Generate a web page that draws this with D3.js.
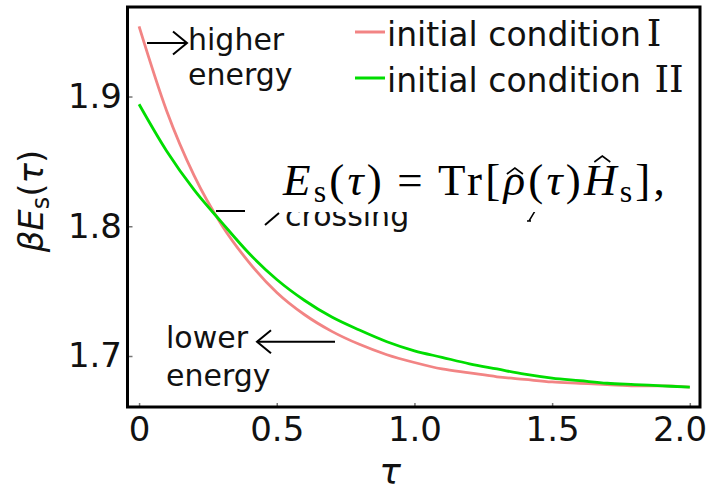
<!DOCTYPE html>
<html>
<head>
<meta charset="utf-8">
<script src="https://cdn.jsdelivr.net/npm/d3@7"></script>
<style>
  html, body { margin: 0; padding: 0; background: #fff; }
  svg { display: block; }
</style>
</head>
<body>
<svg id="chart" width="710" height="493"></svg>
<script>
// Relaxation time grid
const tau = [0.0, 0.1, 0.2, 0.3, 0.4, 0.5, 0.6, 0.7, 0.8, 0.9, 1.0,
             1.1, 1.2, 1.3, 1.4, 1.5, 1.6, 1.7, 1.8, 1.9, 2.0];

// beta * E_s(tau) for initial condition I (starts higher, relaxes faster)
const energyI = [1.954, 1.889, 1.839, 1.801, 1.772, 1.749, 1.732, 1.719, 1.709, 1.701, 1.695,
                 1.690, 1.687, 1.684, 1.682, 1.680, 1.679, 1.678, 1.677, 1.677, 1.676];

// beta * E_s(tau) for initial condition II (starts lower, relaxes slower)
const energyII = [1.894, 1.858, 1.828, 1.803, 1.779, 1.759, 1.743, 1.730, 1.720, 1.711, 1.704,
                  1.699, 1.694, 1.690, 1.686, 1.683, 1.681, 1.679, 1.678, 1.677, 1.676];

const seriesNames = ["initial condition", "initial condition"];
const seriesNumerals = ["I", "II"];

const xTicks = [0, 0.5, 1.0, 1.5, 2.0];
const xTickLabels = ["0", "0.5", "1.0", "1.5", "2.0"];
const yTicks = [1.7, 1.8, 1.9];
const yTickLabels = ["1.7", "1.8", "1.9"];

const colors = ["#f28484", "#00dd00"];

const svg = d3.select("#chart");
const W = 710, H = 493;
const plot = { left: 127.5, right: 700, top: 7, bottom: 407 };

const x = d3.scaleLinear().domain([-0.042, 2.037]).range([plot.left, plot.right]);
const y = d3.scaleLinear().domain([1.6607, 1.969]).range([plot.bottom, plot.top]);

const sans = "'DejaVu Sans', 'Bitstream Vera Sans', sans-serif";
const serif = "'Liberation Serif', 'DejaVu Serif', serif";

// Axes: small grey ticks pointing into the frame
const xAxis = d3.axisBottom(x).tickValues(xTicks)
  .tickFormat((d, i) => xTickLabels[i]).tickSizeInner(-4).tickSizeOuter(0).tickPadding(10);
const yAxis = d3.axisLeft(y).tickValues(yTicks)
  .tickFormat((d, i) => yTickLabels[i]).tickSizeInner(-5).tickSizeOuter(0).tickPadding(5.5);

const gx = svg.append("g").attr("transform", `translate(0,${plot.bottom})`).call(xAxis);
const gy = svg.append("g").attr("transform", `translate(${plot.left},0)`).call(yAxis);
[gx, gy].forEach(g => {
  g.select(".domain").remove();
  g.selectAll(".tick line").attr("stroke", "#777").attr("stroke-width", 1.5);
  g.selectAll(".tick text").attr("fill", "#111")
    .style("font-family", sans).style("font-size", "34px");
});
// keep the last x label inside the canvas
gx.selectAll(".tick text").each(function () {
  const bb = this.getBBox();
  const tr = this.parentNode.getAttribute("transform");
  const tx = +tr.match(/translate\(([-\d.]+)/)[1];
  const overflow = tx + bb.x + bb.width - (W - 3);
  if (overflow > 0) d3.select(this).attr("x", -overflow);
});

// Curves
const line = d3.line().x((d, i) => x(tau[i])).y(d => y(d)).curve(d3.curveMonotoneX);
[energyI, energyII].forEach((s, k) => {
  svg.append("path").datum(s).attr("d", line)
    .attr("fill", "none").attr("stroke", colors[k]).attr("stroke-width", 2.8);
});

// Frame
svg.append("rect")
  .attr("x", plot.left).attr("y", plot.top)
  .attr("width", plot.right - plot.left).attr("height", plot.bottom - plot.top)
  .attr("fill", "none").attr("stroke", "#000").attr("stroke-width", 3);

// Axis titles
svg.append("text")
  .attr("x", 390).attr("y", 484).attr("text-anchor", "middle")
  .style("font-family", sans).style("font-size", "36px").style("font-style", "italic")
  .attr("fill", "#111").text("τ");

const ylab = svg.append("text")
  .attr("transform", "translate(43,201) rotate(-90)")
  .attr("text-anchor", "middle")
  .style("font-family", sans).style("font-size", "34px").attr("fill", "#111");
ylab.append("tspan").style("font-style", "italic").text("βE");
ylab.append("tspan").attr("dy", 6).style("font-size", "24px").text("s");
ylab.append("tspan").attr("dy", -6).text("(");
ylab.append("tspan").style("font-style", "italic").text("τ");
ylab.append("tspan").text(")");

// Legend
const legendRows = [32, 78];
seriesNames.forEach((name, k) => {
  svg.append("line")
    .attr("x1", 355).attr("x2", 385).attr("y1", legendRows[k]).attr("y2", legendRows[k])
    .attr("stroke", colors[k]).attr("stroke-width", 3);
  svg.append("text")
    .attr("x", 387).attr("y", legendRows[k] + 13.5)
    .style("font-family", sans).style("font-size", "33px").attr("fill", "#111")
    .text(name);
});
svg.append("text").attr("x", 654).attr("y", 45.5).attr("text-anchor", "middle")
  .style("font-family", "'DejaVu Serif', serif").style("font-size", "37px").attr("fill", "#111")
  .text(seriesNumerals[0]);
svg.append("text").attr("x", 669).attr("y", 92).attr("text-anchor", "middle")
  .style("font-family", "'DejaVu Serif', serif").style("font-size", "37px").attr("fill", "#111")
  .text(seriesNumerals[1]);

// Annotation helpers
function arrow(x1, x2, yy) {
  const dir = Math.sign(x2 - x1);
  svg.append("line").attr("x1", x1).attr("x2", x2).attr("y1", yy).attr("y2", yy)
    .attr("stroke", "#000").attr("stroke-width", 2);
  svg.append("path")
    .attr("d", `M${x2 - dir * 14},${yy - 11.5} L${x2},${yy} L${x2 - dir * 14},${yy + 11.5}`)
    .attr("fill", "none").attr("stroke", "#000").attr("stroke-width", 2);
}
function note(lines, x0, y0, dy, parent) {
  lines.forEach((s, i) => (parent || svg).append("text").attr("x", x0).attr("y", y0 + i * dy)
    .style("font-family", sans).style("font-size", "30px").attr("fill", "#111").text(s));
}

arrow(147, 187, 43);
note(["higher", "energy"], 188, 50, 35);

arrow(335, 257, 341.7);
note(["lower", "energy"], 166, 348, 38);

// crossing marker; its upper part sits under the formula box
svg.append("defs").append("clipPath").attr("id", "below-box")
  .append("rect").attr("x", 0).attr("y", 212).attr("width", W).attr("height", H - 212);
svg.append("line").attr("x1", 216).attr("x2", 245).attr("y1", 211).attr("y2", 211)
  .attr("stroke", "#000").attr("stroke-width", 2);
const cross = svg.append("g").attr("clip-path", "url(#below-box)");
cross.append("line").attr("x1", 265).attr("x2", 279).attr("y1", 225).attr("y2", 213)
  .attr("stroke", "#000").attr("stroke-width", 2);
note(["crossing"], 285, 226, 0, cross);
cross.append("path").attr("d", "M529,221 L535,211 M527,221 L531,221")
  .attr("fill", "none").attr("stroke", "#000").attr("stroke-width", 1.5);

// Formula: E_s(tau) = Tr[rho-hat(tau) H-hat_s],
const f = svg.append("text").attr("x", 283).attr("y", 195)
  .style("font-family", serif).style("font-size", "45px").attr("fill", "#000");
f.append("tspan").style("font-style", "italic").text("E");
f.append("tspan").attr("dy", 7).style("font-size", "32px").text("s");
f.append("tspan").attr("dy", -7).text("(");
f.append("tspan").style("font-style", "italic").text("τ");
f.append("tspan").text(")");
f.append("tspan").text("\u2009=\u2009");
f.append("tspan").text("Tr[");
const rho = f.append("tspan").style("font-style", "italic").text("ρ");
f.append("tspan").text("(");
f.append("tspan").style("font-style", "italic").text("τ");
f.append("tspan").text(")");
const ham = f.append("tspan").style("font-style", "italic").text("H");
f.append("tspan").attr("dy", 7).style("font-size", "32px").text("s");
f.append("tspan").attr("dy", -7).text("],");

// spread the glyphs out to the formula's full width
const targetWidth = 385;
const natural = f.node().getComputedTextLength();
const nChars = f.text().length;
f.style("letter-spacing", `${(targetWidth - natural) / nChars}px`);

// hats over rho and H
function hat(tsp, dx, top) {
  const bb = tsp.node().getBBox();
  const cx = bb.x + bb.width / 2 + dx;
  svg.append("path")
    .attr("d", `M${cx - 8},${top + 6} L${cx},${top} L${cx + 8},${top + 6}`)
    .attr("fill", "none").attr("stroke", "#000").attr("stroke-width", 1.6)
    .attr("stroke-linejoin", "miter");
}
hat(rho, 0, 168);
hat(ham, 1, 156);
</script>
</body>
</html>
